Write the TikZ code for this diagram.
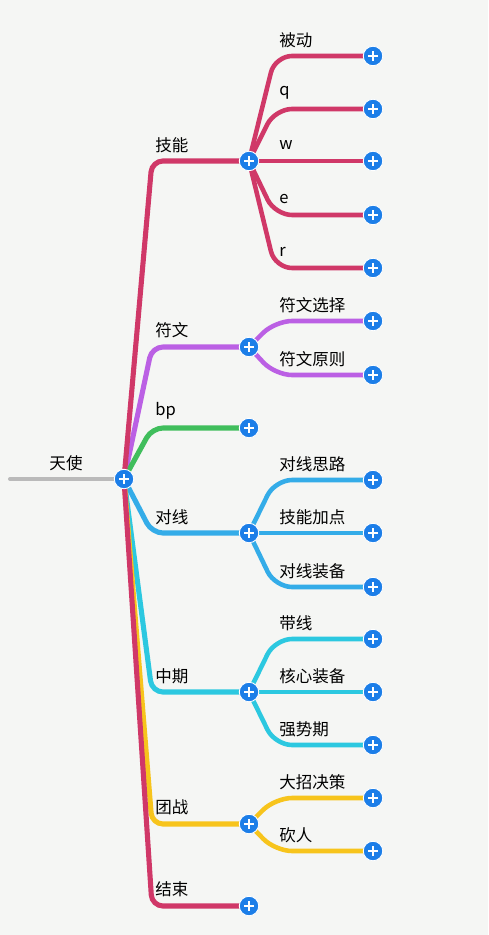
\documentclass[tikz,border=0pt]{standalone}
\usepackage{fontspec}
\newfontfamily\cjk{Noto Sans CJK SC}
\usepackage{tikz}
\usepackage{xcolor}
\definecolor{paper}{RGB}{245,246,244}
\definecolor{rose}{RGB}{208,56,104}
\definecolor{runepurple}{RGB}{187,96,228}
\definecolor{bpgreen}{RGB}{64,190,92}
\definecolor{laneblue}{RGB}{52,172,232}
\definecolor{midcyan}{RGB}{44,200,224}
\definecolor{fightgold}{RGB}{247,196,28}
\definecolor{rootgray}{RGB}{186,186,186}
\definecolor{btnblue}{RGB}{28,126,232}
\pgfdeclarelayer{paperlayer}
\pgfdeclarelayer{links}
\pgfsetlayers{paperlayer,links,main}
\tikzset{
  addbtn/.style={circle, fill=btnblue, draw=white, line width=0.5pt,
    minimum size=0.39cm, inner sep=0pt,
    path picture={\draw[white, line width=1.4pt]
      ([xshift=-0.1cm]path picture bounding box.center) -- ([xshift=0.1cm]path picture bounding box.center)
      ([yshift=-0.1cm]path picture bounding box.center) -- ([yshift=0.1cm]path picture bounding box.center);}},
  txt/.style={anchor=west, inner sep=0pt, font=\cjk\fontsize{9.4}{11}\selectfont},
  br/.style={line width=2.9pt, rounded corners=0.22cm, line cap=round},
  sub/.style={line width=2.6pt, rounded corners=0.34cm, line cap=round}
}

\begin{document}
\begin{tikzpicture}[x=0.02cm, y=-0.02cm]
\useasboundingbox (0,0) rectangle (488,935);
\begin{pgfonlayer}{paperlayer}
\fill[paper] (0,0) rectangle (488,935);
\end{pgfonlayer}

% root
\coordinate (tail) at (10,479);
\node[addbtn] (ts) at (124,479) {};
\node[txt, anchor=center] (tst) at (66,463) {天使};
\coordinate (l1) at (152,0);
\coordinate (l2) at (275,0);

% first level
\node[addbtn] (jn) at (249,161) {};
\node[txt] (jnt) at (155,145) {技能};
\node[addbtn] (fw) at (249,347) {};
\node[txt] (fwt) at (155,330) {符文};
\node[addbtn] (bp) at (249,428) {};
\node[txt] (bpt) at (155,411) {bp};
\node[addbtn] (dx) at (249,533) {};
\node[txt] (dxt) at (155,517) {对线};
\node[addbtn] (zq) at (249,692) {};
\node[txt] (zqt) at (155,676) {中期};
\node[addbtn] (tz) at (249,824) {};
\node[txt] (tzt) at (155,807) {团战};
\node[addbtn] (js) at (249,906) {};
\node[txt] (jst) at (155,889) {结束};

% second level
\node[addbtn] (jn1) at (373,56) {};
\node[txt] at (279,40) {被动};
\node[addbtn] (jn2) at (373,109) {};
\node[txt] at (279,93) {q};
\node[addbtn] (jn3) at (373,161) {};
\node[txt] at (279,145) {w};
\node[addbtn] (jn4) at (373,215) {};
\node[txt] at (279,199) {e};
\node[addbtn] (jn5) at (373,268) {};
\node[txt] at (279,252) {r};
\node[addbtn] (fw1) at (373,321) {};
\node[txt] at (279,305) {符文选择};
\node[addbtn] (fw2) at (373,375) {};
\node[txt] at (279,359) {符文原则};
\node[addbtn] (dx1) at (373,480) {};
\node[txt] at (279,464) {对线思路};
\node[addbtn] (dx2) at (373,533) {};
\node[txt] at (279,517) {技能加点};
\node[addbtn] (dx3) at (373,587) {};
\node[txt] at (279,571) {对线装备};
\node[addbtn] (zq1) at (373,639) {};
\node[txt] at (279,623) {带线};
\node[addbtn] (zq2) at (373,692) {};
\node[txt] at (279,676) {核心装备};
\node[addbtn] (zq3) at (373,745) {};
\node[txt] at (279,729) {强势期};
\node[addbtn] (tz1) at (373,798) {};
\node[txt] at (279,782) {大招决策};
\node[addbtn] (tz2) at (373,851) {};
\node[txt] at (279,835) {砍人};

\begin{pgfonlayer}{links}
\draw[line width=2.3pt, rootgray, line cap=round] (tail) -- (ts.center);
% first level links
\draw[br, runepurple] (ts.center) -- (fw -| l1) -- (fw.center);
\draw[br, bpgreen] (ts.center) -- (bp -| l1) -- (bp.center);
\draw[br, laneblue] (ts.center) -- (dx -| l1) -- (dx.center);
\draw[br, midcyan] (ts.center) -- (zq -| l1) -- (zq.center);
\draw[br, fightgold] (ts.center) -- (tz -| l1) -- (tz.center);
\draw[br, rose] (ts.center) -- (jn -| l1) -- (jn.center);
\draw[br, rose] (ts.center) -- (js -| l1) -- (js.center);
% second level links
\foreach \k in {jn1,jn2,jn3,jn4,jn5}
  \draw[sub, rose] (jn.center) -- (\k -| l2) -- (\k.center);
\foreach \k in {fw1,fw2}
  \draw[sub, runepurple] (fw.center) -- (\k -| l2) -- (\k.center);
\foreach \k in {dx1,dx2,dx3}
  \draw[sub, laneblue] (dx.center) -- (\k -| l2) -- (\k.center);
\foreach \k in {zq1,zq2,zq3}
  \draw[sub, midcyan] (zq.center) -- (\k -| l2) -- (\k.center);
\foreach \k in {tz1,tz2}
  \draw[sub, fightgold] (tz.center) -- (\k -| l2) -- (\k.center);
\end{pgfonlayer}
\end{tikzpicture}
\end{document}
